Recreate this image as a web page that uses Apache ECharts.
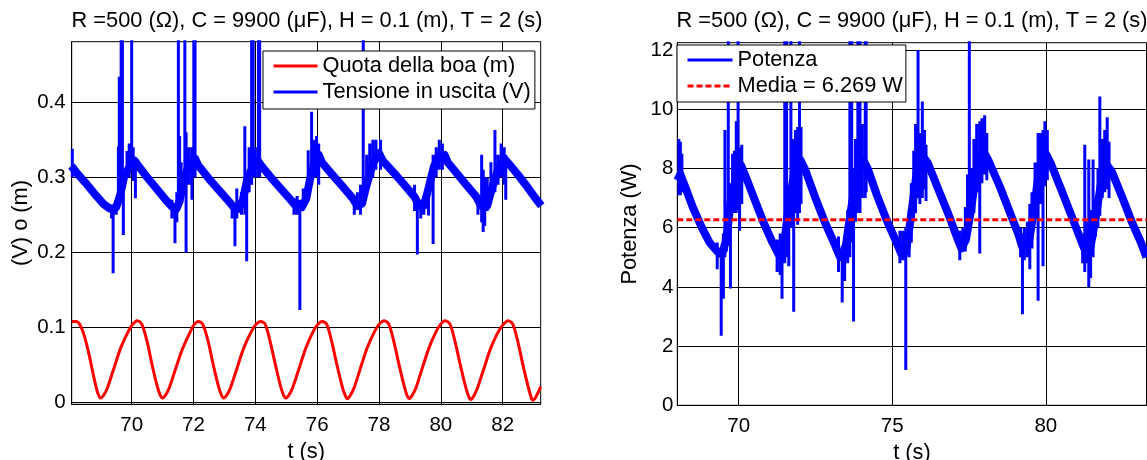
<!DOCTYPE html>
<html><head><meta charset="utf-8">
<script src="https://cdn.jsdelivr.net/npm/echarts@6/dist/echarts.min.js"></script>
<style>html,body{margin:0;padding:0;background:#fff}#c{width:1147px;height:460px}</style>
</head><body><div id="c"></div>
<script>
const titleText = 'R =500 (\u03A9), C = 9900 (\u03BCF), H = 0.1 (m), T = 2 (s)';
const leftXTicks = [70, 72, 74, 76, 78, 80, 82];
const leftYTicks = [0, 0.1, 0.2, 0.3, 0.4];
const rightXTicks = [70, 75, 80];
const rightYTicks = [0, 2, 4, 6, 8, 10, 12];

// Quota della boa (m): [t, value]
const quota = [
[68.06,0.108],[68.2,0.108],[68.32,0.104],[68.46,0.090],[68.62,0.064],[68.78,0.033],[68.9,0.013],[69.0,0.006],[69.1,0.010],
[69.22,0.020],[69.43,0.046],[69.64,0.072],[69.86,0.092],[70.02,0.1035],[70.18,0.109],[70.33,0.104],[70.5,0.081],[70.66,0.050],[70.83,0.021],[70.93,0.009],[71.0,0.006],[71.1,0.010],
[71.22,0.020],[71.43,0.046],[71.64,0.071],[71.86,0.091],[72.0,0.1025],[72.15,0.108],[72.3,0.104],[72.47,0.082],[72.64,0.050],[72.81,0.021],[72.91,0.009],[72.98,0.006],[73.08,0.010],
[73.2,0.020],[73.41,0.046],[73.62,0.072],[73.84,0.092],[74.0,0.103],[74.17,0.108],[74.32,0.104],[74.48,0.081],[74.65,0.050],[74.82,0.021],[74.92,0.009],[74.99,0.006],[75.09,0.010],
[75.21,0.020],[75.42,0.046],[75.63,0.072],[75.84,0.092],[76.0,0.103],[76.16,0.108],[76.31,0.104],[76.47,0.081],[76.64,0.050],[76.81,0.021],[76.91,0.009],[76.98,0.005],[77.08,0.010],
[77.2,0.020],[77.41,0.047],[77.62,0.073],[77.84,0.093],[78.0,0.104],[78.17,0.109],[78.32,0.104],[78.48,0.081],[78.65,0.050],[78.82,0.021],[78.92,0.008],[78.98,0.005],[79.08,0.010],
[79.2,0.020],[79.41,0.047],[79.62,0.073],[79.83,0.093],[79.99,0.104],[80.14,0.109],[80.3,0.104],[80.46,0.081],[80.63,0.050],[80.8,0.021],[80.9,0.008],[80.97,0.004],[81.07,0.009],
[81.19,0.020],[81.4,0.046],[81.61,0.072],[81.83,0.092],[82.0,0.103],[82.18,0.109],[82.33,0.104],[82.49,0.081],[82.66,0.049],[82.83,0.020],[82.92,0.007],[82.97,0.003],[83.07,0.007],[83.23,0.021]
];

// Tensione in uscita (V): main noisy band [t, value]
const tensione = [
[68.05,0.315],[68.2,0.307],[68.5,0.293],[68.8,0.278],[69.1,0.264],[69.3,0.258],[69.5,0.260],[69.62,0.275],[69.75,0.300],[69.9,0.312],[70.1,0.322],[70.2,0.316],
[70.5,0.300],[70.8,0.285],[71.1,0.270],[71.3,0.261],[71.45,0.258],[71.55,0.268],[71.7,0.300],[71.85,0.315],[72.05,0.325],[72.15,0.316],
[72.5,0.298],[72.8,0.284],[73.1,0.270],[73.3,0.260],[73.45,0.258],[73.6,0.270],[73.75,0.300],[73.9,0.312],[74.08,0.322],[74.2,0.315],
[74.5,0.300],[74.8,0.286],[75.1,0.272],[75.3,0.262],[75.5,0.260],[75.65,0.272],[75.78,0.300],[75.9,0.318],[76.05,0.330],[76.15,0.320],
[76.5,0.303],[76.8,0.289],[77.15,0.272],[77.3,0.262],[77.45,0.265],[77.6,0.290],[77.8,0.318],[78.0,0.332],[78.12,0.322],
[78.5,0.305],[78.8,0.291],[79.15,0.274],[79.3,0.262],[79.45,0.262],[79.6,0.285],[79.78,0.315],[79.95,0.328],[80.12,0.330],[80.22,0.320],
[80.5,0.306],[80.8,0.291],[81.15,0.274],[81.3,0.262],[81.5,0.262],[81.65,0.285],[81.85,0.310],[82.05,0.325],[82.2,0.318],
[82.5,0.303],[82.8,0.287],[83.1,0.270],[83.25,0.262]
];
// Tensione spikes: [t, low, high]
const tensioneSpikes = [
[68.08,0.300,0.338],[69.35,0.245,0.262],[69.40,0.172,0.260],[69.50,0.250,0.270],[69.57,0.260,0.341],[69.60,0.270,0.434],[69.66,0.280,0.600],[69.70,0.290,0.600],[69.73,0.223,0.300],[69.85,0.300,0.335],[69.92,0.300,0.345],[70.00,0.310,0.600],[70.05,0.295,0.340],[70.12,0.272,0.320],
[71.30,0.245,0.270],[71.40,0.212,0.265],[71.46,0.240,0.280],[71.51,0.260,0.600],[71.55,0.270,0.355],[71.60,0.280,0.320],[71.72,0.280,0.600],[71.76,0.199,0.360],[71.85,0.290,0.340],[71.95,0.270,0.340],[72.01,0.300,0.600],[72.05,0.300,0.600],
[73.25,0.245,0.268],[73.34,0.208,0.265],[73.40,0.245,0.285],[73.55,0.250,0.280],[73.66,0.250,0.368],[73.72,0.188,0.300],[73.80,0.280,0.340],[73.88,0.290,0.600],[73.93,0.300,0.600],[74.00,0.300,0.340],[74.10,0.300,0.600],[74.14,0.300,0.600],
[75.25,0.250,0.272],[75.35,0.250,0.275],[75.44,0.123,0.270],[75.55,0.260,0.285],[75.71,0.270,0.336],[75.82,0.290,0.3875],[75.90,0.300,0.350],[75.98,0.300,0.355],[76.05,0.290,0.345],
[77.20,0.250,0.270],[77.30,0.257,0.280],[77.40,0.250,0.290],[77.49,0.270,0.600],[77.60,0.280,0.330],[77.70,0.300,0.345],[77.80,0.300,0.350],[77.90,0.310,0.350],[78.05,0.310,0.350],
[79.15,0.255,0.290],[79.24,0.197,0.270],[79.35,0.245,0.270],[79.45,0.250,0.275],[79.60,0.249,0.300],[79.75,0.211,0.330],[79.85,0.300,0.340],[79.95,0.310,0.350],[80.05,0.310,0.345],
[81.20,0.250,0.270],[81.32,0.240,0.330],[81.37,0.227,0.310],[81.42,0.235,0.300],[81.50,0.255,0.300],[81.62,0.270,0.320],[81.75,0.280,0.363],[81.85,0.290,0.330],[81.95,0.300,0.345],[82.05,0.290,0.340],[82.10,0.270,0.330]
];

// Potenza (W): main noisy band [t, value]
const potenza = [
[68.0,7.6],[68.1,7.8],[68.25,7.4],[68.5,6.7],[68.8,6.0],[69.05,5.5],[69.3,5.2],[69.45,5.1],[69.6,5.6],[69.75,7.0],[69.9,7.6],[70.08,8.1],[70.2,7.8],
[70.5,7.0],[70.8,6.2],[71.1,5.5],[71.3,5.1],[71.45,5.2],[71.6,6.5],[71.8,7.8],[72.0,8.3],[72.15,8.0],
[72.5,7.0],[72.8,6.2],[73.1,5.5],[73.3,5.0],[73.45,5.1],[73.6,6.2],[73.8,7.6],[74.05,8.3],[74.2,8.0],
[74.5,7.1],[74.8,6.3],[75.1,5.6],[75.3,5.1],[75.45,5.2],[75.6,6.3],[75.8,7.9],[76.0,8.4],[76.15,8.2],
[76.5,7.3],[76.85,6.4],[77.1,5.7],[77.25,5.3],[77.4,5.6],[77.55,6.5],[77.75,8.0],[77.95,8.6],[78.12,8.3],
[78.5,7.4],[78.8,6.6],[79.1,5.8],[79.25,5.3],[79.45,5.5],[79.6,6.5],[79.8,8.1],[80.0,8.5],[80.15,8.2],
[80.5,7.3],[80.8,6.5],[81.1,5.7],[81.25,5.3],[81.45,5.3],[81.6,6.2],[81.8,7.5],[82.0,8.1],[82.15,7.9],
[82.5,7.0],[82.8,6.2],[83.1,5.5],[83.28,5.0]
];
// Potenza spikes: [t, low, high]
const potenzaSpikes = [
[68.05,7.1,9.0],[68.10,7.1,8.9],[68.15,7.2,8.5],
[69.30,4.6,5.5],[69.43,2.35,5.3],[69.50,3.6,5.8],[69.55,5.0,9.3],[69.60,5.2,6.5],[69.66,5.5,15],[69.73,3.95,7.5],[69.80,6.5,8.5],[69.86,6.5,8.6],[69.92,6.5,9.6],[69.98,6.6,15],[70.03,5.9,8.7],[70.10,6.8,8.8],
[71.25,4.5,5.6],[71.35,4.4,5.8],[71.41,3.6,5.5],[71.50,4.8,15],[71.56,5.0,15],[71.63,4.7,6.5],[71.70,6.0,15],[71.79,3.16,9.0],[71.85,6.5,9.3],[71.92,6.1,9.4],[71.98,6.5,15],[72.03,6.8,9.4],
[73.25,4.5,5.7],[73.37,3.47,5.4],[73.45,4.2,5.6],[73.55,4.8,6.6],[73.62,5.0,15],[73.68,5.5,15],[73.74,2.83,8.0],[73.80,6.2,9.0],[73.88,6.5,15],[73.95,6.5,15],[74.02,7.0,9.5],[74.12,7.0,15],[74.15,7.2,15],
[75.25,4.8,5.9],[75.35,4.9,5.9],[75.44,1.19,6.0],[75.55,5.0,6.6],[75.62,5.5,7.5],[75.70,6.5,8.6],[75.76,6.5,9.5],[75.84,7.0,12.0],[75.90,6.8,9.2],[75.98,7.0,10.26],[76.05,7.3,9.3],[76.10,6.9,8.8],
[77.20,4.9,5.9],[77.30,5.2,6.0],[77.38,5.2,6.7],[77.45,5.6,7.8],[77.51,6.0,15],[77.58,6.2,8.0],[77.66,6.5,9.0],[77.75,7.2,9.5],[77.85,5.13,9.6],[77.92,7.5,9.7],[78.01,7.8,9.8],[78.08,7.6,9.2],
[79.18,5.0,6.0],[79.24,3.08,5.8],[79.30,4.9,6.0],[79.40,5.0,6.2],[79.48,4.6,6.8],[79.55,5.3,7.2],[79.65,6.3,8.2],[79.75,3.53,9.2],[79.84,6.8,9.2],[79.91,4.7,9.3],[79.97,7.4,9.6],[80.05,7.6,9.3],
[81.20,4.8,5.8],[81.27,4.5,8.8],[81.33,4.8,6.2],[81.40,4.0,8.3],[81.46,4.3,6.6],[81.54,5.0,8.3],[81.62,5.7,7.0],[81.70,6.0,8.0],[81.76,6.4,10.43],[81.84,7.0,9.0],[81.92,7.2,9.3],[82.00,7.3,9.73],[82.06,7.0,8.9]
];
const mediaValue = 6.269;
const mediaRange = [68.0, 83.28];

const FF = '"Liberation Sans", Arial, sans-serif';
const FS = 21.8, FT = 20.5;

function spikeLine(sp) {
  const out = [];
  sp.forEach(s => { out.push([s[0], s[1]], [s[0], s[2]], [s[0], '-']); });
  return out;
}
function xAxisCfg(gi, min, max, ticks) {
  return {
    type: 'value', gridIndex: gi, min: min, max: max, name: 't (s)',
    nameLocation: 'middle', nameGap: 30,
    nameTextStyle: { color: '#000', fontSize: FS, fontFamily: FF },
    axisLine: { show: true, onZero: false, lineStyle: { color: '#000', width: 1 } },
    axisTick: { show: true, inside: true, length: 5, customValues: ticks, lineStyle: { color: '#000' } },
    axisLabel: { customValues: ticks, color: '#000', fontSize: FT, fontFamily: FF, margin: 11 },
    splitLine: { show: true, lineStyle: { color: '#000', width: 1 } }
  };
}
function yAxisCfg(gi, min, max, ticks, name, gap, margin, fmt) {
  return {
    type: 'value', gridIndex: gi, min: min, max: max, name: name,
    nameLocation: 'middle', nameGap: gap, nameRotate: 90,
    nameTextStyle: { color: '#000', fontSize: FS, fontFamily: FF },
    axisLine: { show: true, onZero: false, lineStyle: { color: '#000', width: 1 } },
    axisTick: { show: true, inside: true, length: 5, customValues: ticks, lineStyle: { color: '#000' } },
    axisLabel: { customValues: ticks, color: '#000', fontSize: FT, fontFamily: FF, margin: margin, formatter: fmt },
    splitLine: { show: true, lineStyle: { color: '#000', width: 1 } }
  };
}
const titleStyle = { fontSize: FS, fontWeight: 'normal', color: '#000', fontFamily: FF };
const legendBase = {
  orient: 'vertical', itemWidth: 44, itemHeight: 2, itemGap: 0,
  borderColor: '#000', borderWidth: 1, backgroundColor: '#fff', borderRadius: 0,
  selectedMode: false,
  textStyle: { fontSize: FS, color: '#000', fontFamily: FF, lineHeight: 26 },
  lineStyle: { width: 3 },
  itemStyle: { opacity: 0 }
};

const chart = echarts.init(document.getElementById('c'), null, { renderer: 'canvas' });
chart.setOption({
  animation: false,
  backgroundColor: '#fff',
  title: [
    { text: titleText, left: 307, top: 10, textAlign: 'center', padding: 0, textStyle: titleStyle },
    { text: titleText, left: 912, top: 10, textAlign: 'center', padding: 0, textStyle: titleStyle }
  ],
  legend: [
    Object.assign({}, legendBase, { left: 263, top: 51, padding: [2, 4, 4, 9],
      data: ['Quota della boa (m)', 'Tensione in uscita (V)'] }),
    Object.assign({}, legendBase, { left: 677, top: 45, itemWidth: 45, padding: [2, 3, 3, 9],
      data: ['Potenza', 'Media = 6.269 W'] })
  ],
  grid: [
    { left: 71.7, right: 1147 - 540.7, top: 41.7, bottom: 460 - 404.3, show: true, borderColor: '#000', borderWidth: 1, backgroundColor: 'transparent', containLabel: false, outerBoundsMode: 'none' },
    { left: 677.3, right: 0.5, top: 42.7, bottom: 460 - 405.3, show: true, borderColor: '#000', borderWidth: 1, backgroundColor: 'transparent', containLabel: false, outerBoundsMode: 'none' }
  ],
  xAxis: [
    xAxisCfg(0, 68.06, 83.23, leftXTicks),
    xAxisCfg(1, 68.0, 83.28, rightXTicks)
  ],
  yAxis: [
    yAxisCfg(0, -0.0025, 0.4807, leftYTicks, '(V) o (m)', 40, 6, v => String(Math.round(v * 10) / 10)),
    yAxisCfg(1, 0, 12.25, rightYTicks, 'Potenza (W)', 36, 4, v => String(v))
  ],
  series: [
    { name: 'Tensione in uscita (V)', type: 'line', xAxisIndex: 0, yAxisIndex: 0, data: tensione,
      symbol: 'none', lineStyle: { color: '#0000ff', width: 8, join: 'round' }, itemStyle: { color: '#0000ff' }, z: 2 },
    { name: 'spikesV', type: 'line', xAxisIndex: 0, yAxisIndex: 0, data: spikeLine(tensioneSpikes),
      symbol: 'none', lineStyle: { color: '#0000ff', width: 3 }, z: 2 },
    { name: 'Quota della boa (m)', type: 'line', xAxisIndex: 0, yAxisIndex: 0, data: quota, smooth: 0.3,
      symbol: 'none', lineStyle: { color: '#ff0000', width: 3 }, itemStyle: { color: '#ff0000' }, z: 3 },
    { name: 'Potenza', type: 'line', xAxisIndex: 1, yAxisIndex: 1, data: potenza,
      symbol: 'none', lineStyle: { color: '#0000ff', width: 8, join: 'round' }, itemStyle: { color: '#0000ff' }, z: 2 },
    { name: 'spikesP', type: 'line', xAxisIndex: 1, yAxisIndex: 1, data: spikeLine(potenzaSpikes),
      symbol: 'none', lineStyle: { color: '#0000ff', width: 3 }, z: 2 },
    { name: 'Media = 6.269 W', type: 'line', xAxisIndex: 1, yAxisIndex: 1,
      data: [[mediaRange[0], mediaValue], [mediaRange[1], mediaValue]],
      symbol: 'none', lineStyle: { color: '#ff0000', width: 3, type: [6, 3] }, itemStyle: { color: '#ff0000' }, z: 3 }
  ]
});
</script>
</body></html>
